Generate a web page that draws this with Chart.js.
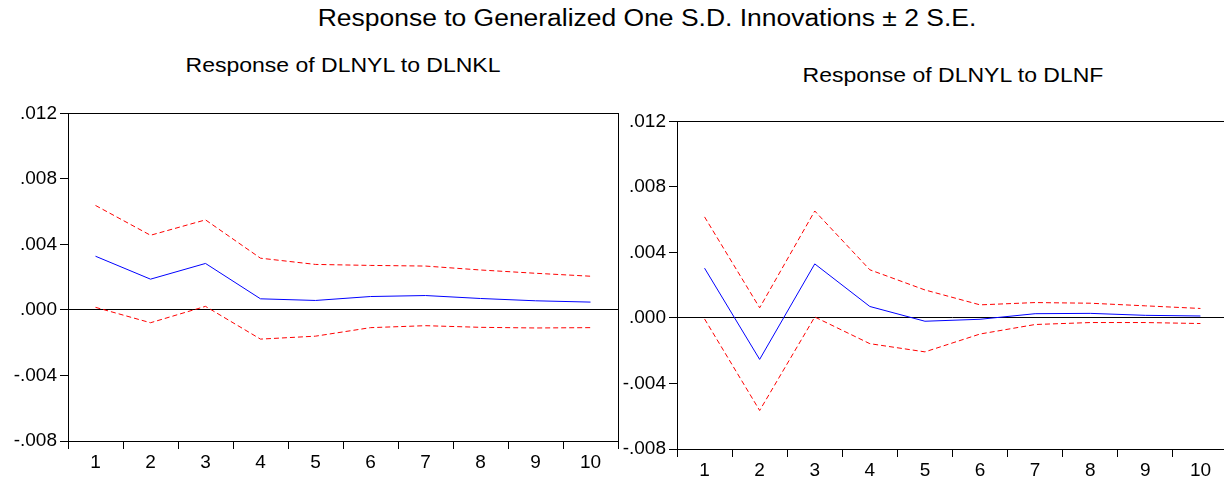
<!DOCTYPE html>
<html>
<head>
<meta charset="utf-8">
<script src="https://cdn.jsdelivr.net/npm/chart.js@4"></script>
<style>
  body { margin: 0; background: #fff; overflow: hidden; width: 1224px; height: 483px; position: relative; font-family: 'Liberation Sans', Arial, sans-serif; }
  .ttl { position: absolute; color: #000; white-space: nowrap; transform: translateX(-50%) scaleX(1.15); transform-origin: center; }
  .box { position: absolute; }
</style>
</head>
<body>
<div class="ttl" style="left:647px; top:5px; font-size:23px;">Response to Generalized One S.D. Innovations ± 2 S.E.</div>
<div class="ttl" style="left:343px; top:54px; font-size:20px;">Response of DLNYL to DLNKL</div>
<div class="ttl" style="left:953px; top:64px; font-size:20px;">Response of DLNYL to DLNF</div>

<div class="box" style="left:0px; top:99px; width:620px; height:383px;"><canvas id="chartKL"></canvas></div>
<div class="box" style="left:612px; top:107px; width:618px; height:376px;"><canvas id="chartF"></canvas></div>

<script>
'use strict';

// periods on the x axis
let periods = ['1', '2', '3', '4', '5', '6', '7', '8', '9', '10'];
let yTicks = [-0.008, -0.004, 0, 0.004, 0.008, 0.012];

// response of DLNYL to DLNKL
let klResp  = [0.00328, 0.00188, 0.00284, 0.00068, 0.00058, 0.00082, 0.00088, 0.00070, 0.00056, 0.00048];
let klUpper = [0.00638, 0.00456, 0.00550, 0.00316, 0.00278, 0.00272, 0.00268, 0.00244, 0.00224, 0.00206];
let klLower = [0.00016, -0.00078, 0.00022, -0.00178, -0.00160, -0.00108, -0.00096, -0.00106, -0.00110, -0.00108];

// response of DLNYL to DLNF
let fResp  = [0.00304, -0.00253, 0.00330, 0.00070, -0.00020, -0.00008, 0.00026, 0.00028, 0.00016, 0.00012];
let fUpper = [0.00617, 0.00062, 0.00653, 0.00294, 0.00171, 0.00080, 0.00094, 0.00090, 0.00074, 0.00058];
let fLower = [-0.00006, -0.00565, 0.00006, -0.00157, -0.00207, -0.00098, -0.00040, -0.00028, -0.00028, -0.00034];

Chart.defaults.font.family = "'Liberation Sans', Arial, sans-serif";
Chart.defaults.font.size = 19;
Chart.defaults.color = '#000';

// box around the plot area
let frame = {
    id: 'frame',
    afterDraw(chart) {
        let a = chart.chartArea;
        let ctx = chart.ctx;
        ctx.save();
        ctx.strokeStyle = '#000';
        ctx.lineWidth = 1;
        ctx.strokeRect(Math.round(a.left) + 0.5, Math.round(a.top) + 0.5, Math.round(a.right - a.left), Math.round(a.bottom - a.top));
        ctx.restore();
    }
};

function fmt(v) {
    let s = Math.abs(v).toFixed(3).replace(/^0/, '');
    return (v < 0 ? '-' : '') + s;
}

function makeChart(id, resp, upper, lower, yWidth, xHeight) {
    let ctx = document.getElementById(id).getContext('2d');
    return new Chart(ctx, {
        type: 'line',
        data: {
            labels: periods,
            datasets: [{
                data: upper,
                borderColor: '#ff0000',
                borderWidth: 1,
                borderDash: [5, 3],
                pointRadius: 0
            }, {
                data: resp,
                borderColor: '#0000ff',
                borderWidth: 1,
                pointRadius: 0
            }, {
                data: lower,
                borderColor: '#ff0000',
                borderWidth: 1,
                borderDash: [5, 3],
                pointRadius: 0
            }]
        },
        options: {
            responsive: true,
            maintainAspectRatio: false,
            animation: false,
            layout: { padding: { top: 10, right: 2, left: 0, bottom: 0 } },
            plugins: { legend: { display: false }, tooltip: { enabled: false } },
            scales: {
                x: {
                    offset: true,
                    grid: { offset: true, color: 'transparent', tickColor: '#000', tickLength: 8, drawOnChartArea: false },
                    border: { display: false },
                    ticks: { padding: 2, maxRotation: 0 },
                    afterFit: function (scale) { scale.height = xHeight; }
                },
                y: {
                    min: yTicks[0],
                    max: yTicks[yTicks.length - 1],
                    afterBuildTicks: function (scale) { scale.ticks = yTicks.map(v => ({ value: v })); },
                    grid: {
                        color: c => (c.tick && c.tick.value === 0) ? '#000' : 'transparent',
                        tickColor: '#000',
                        tickLength: 8
                    },
                    border: { display: false },
                    ticks: { padding: 3, callback: v => fmt(v) },
                    afterFit: function (scale) { scale.width = yWidth; }
                }
            }
        },
        plugins: [frame]
    });
}

makeChart('chartKL', klResp, klUpper, klLower, 68, 41);
makeChart('chartF', fResp, fUpper, fLower, 65, 34);
</script>
</body>
</html>
